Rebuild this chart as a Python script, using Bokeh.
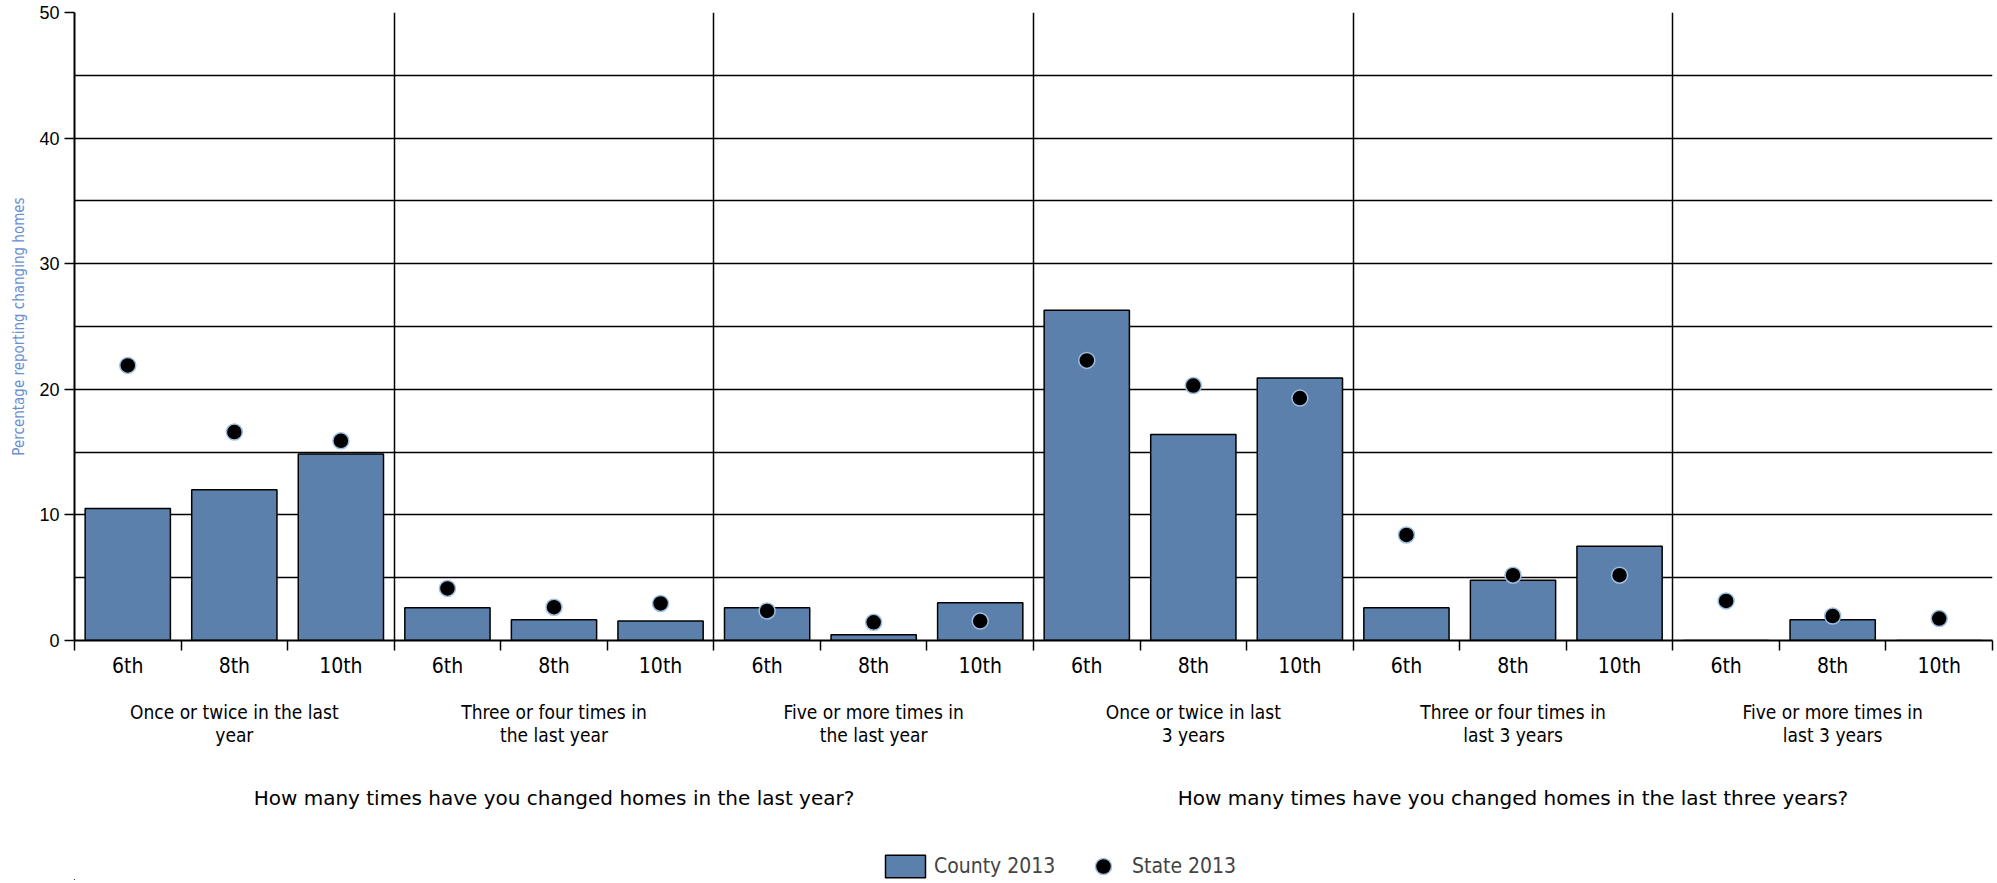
from bokeh.plotting import figure
from bokeh.layouts import column
from bokeh.models import (ColumnDataSource, Range1d, FixedTicker, LinearAxis,
                          Legend, LegendItem)
from bokeh.embed import file_html
from bokeh.resources import INLINE

# ---- data -------------------------------------------------------------
grades = ["6th", "8th", "10th"]
groups = [
    "Once or twice in the last\nyear",
    "Three or four times in\nthe last year",
    "Five or more times in\nthe last year",
    "Once or twice in last\n3 years",
    "Three or four times in\nlast 3 years",
    "Five or more times in\nlast 3 years",
]
questions = [
    "How many times have you changed homes in the last year?",
    "How many times have you changed homes in the last three years?",
]
county_2013 = [10.5, 12.0, 14.85, 2.6, 1.65, 1.55, 2.6, 0.45, 3.0,
               26.3, 16.4, 20.9, 2.6, 4.8, 7.5, 0.0, 1.65, 0.0]
state_2013 = [21.9, 16.6, 15.9, 4.15, 2.65, 2.95, 2.35, 1.45, 1.55,
              22.3, 20.3, 19.3, 8.4, 5.2, 5.2, 3.15, 1.95, 1.75]
y_ticks = [0, 10, 20, 30, 40, 50]

# ---- layout helpers (each category occupies 2 x-units) ------------------
n = len(county_2013)
xc = [2 * i + 1 for i in range(n)]
group_centers = [6 * g + 3 for g in range(len(groups))]
question_centers = [18 * q + 9 for q in range(len(questions))]

source = ColumnDataSource(dict(x=xc, county=county_2013, state=state_2013))

NARROW = "DejaVu Sans Condensed"
BAR_COLOR = "#5b80ab"
DOT_LINE = "#9dbde0"

p = figure(frame_width=1918, frame_height=628, x_range=Range1d(0, 2 * n), y_range=Range1d(0, 50),
           output_backend="svg", toolbar_location=None,
           min_border_left=74, min_border_right=5, min_border_top=12, min_border_bottom=0)
p.outline_line_color = None

# grids
p.ygrid.ticker = FixedTicker(ticks=list(range(5, 51, 5)))
p.ygrid.grid_line_color = "black"
p.ygrid.grid_line_width = 1.5
p.xgrid.ticker = FixedTicker(ticks=[6 * g for g in range(1, len(groups) + 1)])
p.xgrid.grid_line_color = "black"
p.xgrid.grid_line_width = 1.5

# y axis
ya = p.yaxis[0]
ya.ticker = FixedTicker(ticks=y_ticks)
ya.major_tick_out = 10
ya.major_tick_in = 0
ya.major_tick_line_width = 1.5
ya.minor_tick_line_color = None
ya.axis_line_width = 2
ya.major_label_text_font = "Liberation Sans"
ya.major_label_text_font_size = "18px"
ya.major_label_text_color = "black"
ya.major_label_standoff = 5
ya.axis_label = "Percentage reporting changing homes"
ya.axis_label_text_font = NARROW
ya.axis_label_text_font_size = "15px"
ya.axis_label_text_font_style = "normal"
ya.axis_label_text_color = "#6a8fd0"
ya.axis_label_standoff = 8

# x axis: grades
xa = p.xaxis[0]
xa.ticker = FixedTicker(ticks=xc, minor_ticks=list(range(0, 2 * n + 1, 2)))
xa.major_label_overrides = {x: grades[i % 3] for i, x in enumerate(xc)}
xa.major_tick_line_color = None
xa.major_tick_out = 0
xa.minor_tick_out = 10
xa.minor_tick_in = 0
xa.minor_tick_line_width = 1.5
xa.axis_line_width = 2
xa.major_label_text_font = NARROW
xa.major_label_text_font_size = "21px"
xa.major_label_text_color = "black"
xa.major_label_standoff = 3

# x axis: group labels
ga = LinearAxis(ticker=FixedTicker(ticks=group_centers),
                major_label_overrides={x: groups[i] for i, x in enumerate(group_centers)},
                axis_line_color=None, major_tick_line_color=None, minor_tick_line_color=None,
                major_label_standoff=14, major_label_text_font=NARROW,
                major_label_text_font_size="19px", major_label_text_line_height=1.05,
                major_label_text_color="black")
p.add_layout(ga, "below")

# x axis: question labels
qa = LinearAxis(ticker=FixedTicker(ticks=question_centers),
                major_label_overrides={x: questions[i] for i, x in enumerate(question_centers)},
                axis_line_color=None, major_tick_line_color=None, minor_tick_line_color=None,
                major_label_standoff=31, major_label_text_font="DejaVu Sans",
                major_label_text_font_size="20px", major_label_text_color="black")
p.add_layout(qa, "below")

p.vbar(x="x", top="county", width=1.6, bottom=0, source=source,
       fill_color=BAR_COLOR, line_color="black", line_width=1.5)
p.scatter(x="x", y="state", source=source, size=16, fill_color="black",
          line_color=DOT_LINE, line_width=1.5)

# ---- legend strip (separate small figure directly below the chart) -----
p2 = figure(width=1997, height=68, x_range=Range1d(1000, 1001), y_range=Range1d(1000, 1001),
            output_backend="svg", toolbar_location=None,
            x_axis_location=None, y_axis_location=None,
            min_border_left=0, min_border_right=0, min_border_top=0, min_border_bottom=0)
p2.outline_line_color = None
p2.grid.visible = False

leg_bars = p2.vbar(x="x", top="county", width=1.6, bottom=0, source=source,
                   fill_color=BAR_COLOR, line_color="black", line_width=1.5)
leg_dots = p2.scatter(x="x", y="state", source=source, size=16, fill_color="black",
                      line_color=DOT_LINE, line_width=1.5)

legend_county = Legend(items=[LegendItem(label="County 2013", renderers=[leg_bars])],
                       location=(806, 0), orientation="horizontal",
                       border_line_color=None, background_fill_alpha=0,
                       label_text_font=NARROW, label_text_font_size="21px",
                       glyph_width=50, glyph_height=28, label_standoff=4,
                       padding=0, margin=0)
legend_state = Legend(items=[LegendItem(label="State 2013", renderers=[leg_dots])],
                      location=(1009, -6), orientation="horizontal",
                      border_line_color=None, background_fill_alpha=0,
                      label_text_font=NARROW, label_text_font_size="21px",
                      glyph_width=40, glyph_height=40, label_standoff=9,
                      padding=0, margin=0)
p2.add_layout(legend_county, "center")
p2.add_layout(legend_state, "center")

layout = column(p, p2, spacing=0)

open("out.html", "w").write(file_html(layout, INLINE))
